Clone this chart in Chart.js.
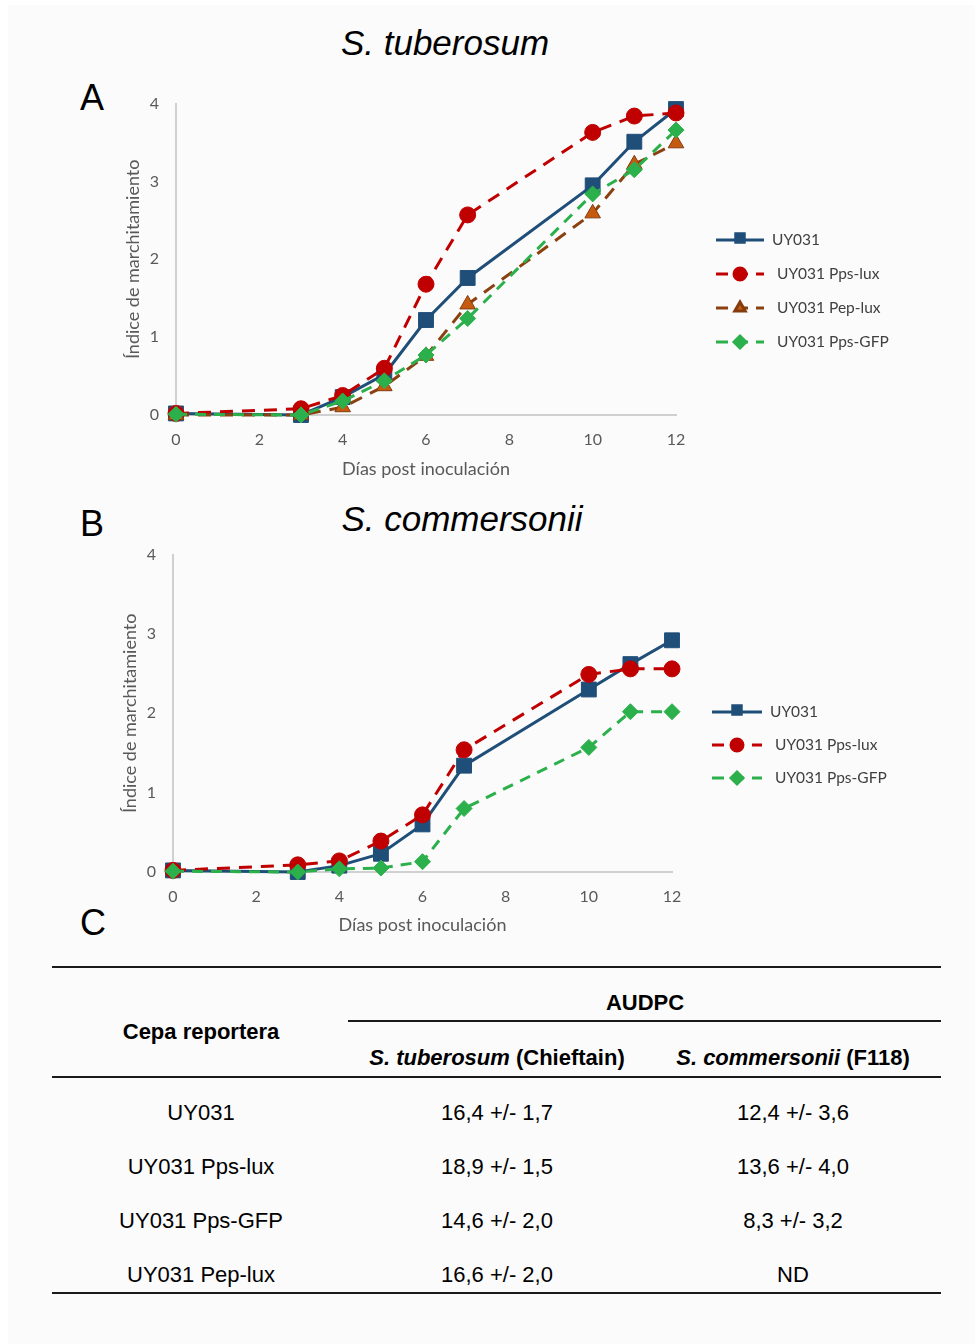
<!DOCTYPE html>
<html>
<head>
<meta charset="utf-8">
<script src="https://cdn.jsdelivr.net/npm/chart.js@4.4.0/dist/chart.umd.min.js"></script>
<style>
  body { margin: 0; background: #fff; width: 975px; height: 1344px; position: relative; overflow: hidden; }
  #bg { position: absolute; left: 8px; top: 5px; right: 0; bottom: 0; background: #fbfbfb; }
  .t { position: absolute; white-space: nowrap; font-family: "Liberation Sans", Arial, sans-serif; color: #000; }
  .title { font-size: 35px; font-style: italic; transform: translate(-50%, -50%); }
  .letter { font-size: 36px; transform: translate(-50%, -50%); }
  .cell { font-size: 22px; transform: translate(-50%, -50%); }
  .b { font-weight: bold; }
  .rule { position: absolute; height: 2px; background: #1a1a1a; }
  canvas { position: absolute; left: 0; }
</style>
</head>
<body>
<div id="bg"></div>
<div class="t title" style="left:445px;top:43px">S. tuberosum</div>
<div class="t title" style="left:462px;top:519px">S. commersonii</div>
<div class="t letter" style="left:92px;top:98px">A</div>
<div class="t letter" style="left:92px;top:524px">B</div>
<div class="t letter" style="left:93px;top:923px">C</div>

<canvas id="chartA" style="top:85px" width="975" height="400"></canvas>
<canvas id="chartB" style="top:536px" width="975" height="405"></canvas>

<div id="table"></div>

<script>
// days post inoculation
const days = [0, 3, 4, 5, 6, 7, 10, 11, 12];

// panel A - S. tuberosum
const uy031A  = [0.02, 0, 0.23, 0.52, 1.22, 1.76, 2.95, 3.51, 3.93];
const ppsLuxA = [0.02, 0.08, 0.25, 0.6, 1.68, 2.57, 3.63, 3.84, 3.88];
const pepLuxA = [0, 0, 0.1, 0.37, 0.76, 1.42, 2.59, 3.22, 3.49];
const ppsGfpA = [0.01, 0, 0.18, 0.44, 0.77, 1.24, 2.84, 3.15, 3.66];

// panel B - S. commersonii
const uy031B  = [0.02, 0, 0.08, 0.23, 0.6, 1.34, 2.3, 2.62, 2.92];
const ppsLuxB = [0.02, 0.09, 0.14, 0.39, 0.72, 1.54, 2.49, 2.56, 2.56];
const ppsGfpB = [0.01, 0, 0.04, 0.05, 0.13, 0.8, 1.57, 2.02, 2.02];

// panel C - AUDPC table
const strains     = ["UY031", "UY031 Pps-lux", "UY031 Pps-GFP", "UY031 Pep-lux"];
const audpcTub    = ["16,4 +/- 1,7", "18,9 +/- 1,5", "14,6 +/- 2,0", "16,6 +/- 2,0"];
const audpcComm   = ["12,4 +/- 3,6", "13,6 +/- 4,0", "8,3 +/- 3,2", "ND"];

const xTicks = [0, 2, 4, 6, 8, 10, 12];
const yTicks = [0, 1, 2, 3, 4];

const chartFont = "Lato, 'Open Sans', sans-serif";

function pts(vals) {
  return days.map((d, i) => ({ x: d, y: vals[i] }));
}

const styles = {
  uy031:  { label: "UY031", borderColor: "#1f4e79", pointBackgroundColor: "#1f4e79", pointBorderColor: "#1f4e79",
            borderWidth: 3, borderDash: [], pointStyle: "rect", pointRadius: 10.5, order: 3 },
  ppsLux: { label: "UY031 Pps-lux", borderColor: "#c00000", pointBackgroundColor: "#c00000", pointBorderColor: "#c00000",
            borderWidth: 3, borderDash: [13, 9], pointStyle: "circle", pointRadius: 8, order: 2 },
  pepLux: { label: "UY031 Pep-lux", borderColor: "#8b4010", pointBackgroundColor: "#c55a11", pointBorderColor: "#843c0c",
            borderWidth: 3, borderDash: [13, 9], pointStyle: "triangle", pointRadius: 9, order: 1 },
  ppsGfp: { label: "UY031 Pps-GFP", borderColor: "#2bb04c", pointBackgroundColor: "#2bb04c", pointBorderColor: "#2bb04c",
            borderWidth: 3, borderDash: [11, 8], pointStyle: "rectRot", pointRadius: 8, order: 0 }
};

function ds(style, vals) {
  return Object.assign({ data: pts(vals), fill: false, tension: 0, clip: false, pointBorderWidth: 1 }, style);
}

// legend with line + marker, like the spreadsheet one
const lineLegend = {
  id: "lineLegend",
  afterDraw(chart, args, opts) {
    const ctx = chart.ctx;
    chart.data.datasets.forEach((d, i) => {
      const y = opts.y + i * opts.gap;
      ctx.save();
      ctx.strokeStyle = d.borderColor;
      ctx.lineWidth = 3;
      ctx.setLineDash(d.borderDash.length ? [12, 8] : []);
      ctx.beginPath();
      ctx.moveTo(opts.x, y);
      ctx.lineTo(opts.x + opts.len, y);
      ctx.stroke();
      ctx.setLineDash([]);
      ctx.fillStyle = d.pointBackgroundColor;
      ctx.strokeStyle = d.pointBorderColor;
      Chart.helpers.drawPoint(ctx, { pointStyle: d.pointStyle, radius: 6, rotation: 0, borderWidth: 1 },
        opts.x + opts.len / 2, y - (d.pointStyle === "rect" ? 2 : 0));
      ctx.fillStyle = "#404040";
      ctx.font = "15.5px " + chartFont;
      ctx.textBaseline = "middle";
      ctx.fillText(d.label, opts.x + opts.len + (i === 0 ? 8 : 13), y);
      ctx.restore();
    });
  }
};

function makeChart(id, datasets, pad, legend) {
  new Chart(document.getElementById(id), {
    type: "line",
    data: { datasets: datasets },
    options: {
      responsive: false,
      animation: false,
      events: [],
      layout: { padding: { left: pad.left, right: pad.right, top: pad.top, bottom: 0 } },
      plugins: { legend: { display: false }, tooltip: { enabled: false }, lineLegend: legend },
      scales: {
        x: {
          type: "linear", min: 0, max: 12,
          afterFit: s => { s.height = pad.xh; },
          afterBuildTicks: s => { s.ticks = xTicks.map(v => ({ value: v })); },
          grid: { display: false },
          border: { display: true, color: "#d0d0d0", width: 2 },
          ticks: { color: "#595959", font: { family: chartFont, size: 16 }, padding: 7 },
          title: { display: true, text: "Días post inoculación", color: "#595959",
                   font: { family: chartFont, size: 18 }, padding: { top: 0, bottom: 5 } }
        },
        y: {
          min: 0, max: 4,
          afterFit: s => { s.width = pad.yw; },
          afterBuildTicks: s => { s.ticks = yTicks.map(v => ({ value: v })); },
          grid: { display: false },
          border: { display: true, color: "#d0d0d0", width: 2 },
          ticks: { color: "#595959", font: { family: chartFont, size: 16 }, padding: 9 },
          title: { display: true, text: "Índice de marchitamiento", color: "#595959",
                   font: { family: chartFont, size: 18 }, padding: { top: 4, bottom: 0 } }
        }
      }
    },
    plugins: [lineLegend]
  });
}

makeChart("chartA",
  [ds(styles.uy031, uy031A), ds(styles.ppsLux, ppsLuxA), ds(styles.pepLux, pepLuxA), ds(styles.ppsGfp, ppsGfpA)],
  { left: 118, right: 299, top: 16, yw: 58, xh: 70 },
  { x: 716, y: 155, gap: 34, len: 48 });

makeChart("chartB",
  [ds(styles.uy031, uy031B), ds(styles.ppsLux, ppsLuxB), ds(styles.ppsGfp, ppsGfpB)],
  { left: 115, right: 303, top: 16, yw: 58, xh: 69 },
  { x: 712, y: 176, gap: 33, len: 50 });

// table
const tbl = document.getElementById("table");
function cell(text, x, y, cls) {
  const d = document.createElement("div");
  d.className = "t cell " + (cls || "");
  d.style.left = x + "px";
  d.style.top = y + "px";
  d.innerHTML = text;
  tbl.appendChild(d);
}
function rule(x1, x2, y) {
  const d = document.createElement("div");
  d.className = "rule";
  d.style.left = x1 + "px";
  d.style.width = (x2 - x1) + "px";
  d.style.top = (y - 1) + "px";
  tbl.appendChild(d);
}
rule(52, 941, 967);
rule(348, 941, 1021);
rule(52, 941, 1077);
rule(52, 941, 1293);
cell("AUDPC", 645, 1003, "b");
cell("Cepa reportera", 201, 1032, "b");
cell("<i>S. tuberosum</i> (Chieftain)", 497, 1058, "b");
cell("<i>S. commersonii</i> (F118)", 793, 1058, "b");
const rowY = [1113, 1167, 1221, 1275];
strains.forEach((s, i) => {
  cell(s, 201, rowY[i]);
  cell(audpcTub[i], 497, rowY[i]);
  cell(audpcComm[i], 793, rowY[i]);
});
</script>
</body>
</html>
